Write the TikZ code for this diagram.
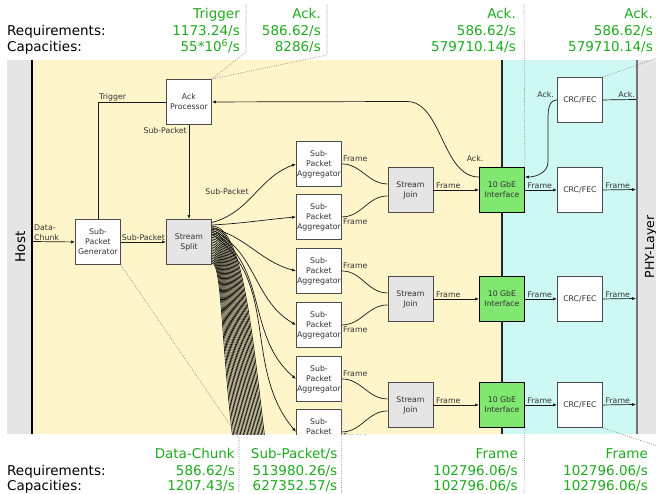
\documentclass[tikz,border=0pt]{standalone}
\usepackage{fontspec}
\setmainfont{DejaVu Sans}
\usetikzlibrary{arrows.meta,calc}
\definecolor{grn}{RGB}{30,170,30}
\definecolor{yel}{RGB}{255,245,202}
\definecolor{cya}{RGB}{206,248,243}
\definecolor{gry}{RGB}{229,229,229}
\definecolor{ifg}{RGB}{128,232,112}
\begin{document}
\begin{tikzpicture}[x=1pt,y=1pt,
  big/.style={font=\fontsize{13.5}{16}\selectfont, inner sep=0pt},
  val/.style={big, text=grn, anchor=base east},
  box/.style={draw=black!70, line width=0.9pt, minimum width=45pt, minimum height=45pt, inner sep=0pt, align=center, font=\fontsize{7.8}{10}\selectfont, text=black!80, anchor=north west, fill=white},
  gbox/.style={box, fill=gry},
  ibox/.style={box, fill=ifg, draw=black},
  lbl/.style={font=\fontsize{7.8}{10}\selectfont, text=black!80, inner sep=1pt},
  con/.style={line width=0.7pt, black!90},
  arr/.style={con, -{Latex[length=4pt,width=3.2pt]}},
  sep/.style={black!45, line width=0.6pt, dash pattern=on 1pt off 1.3pt},
]
\useasboundingbox (0,0) rectangle (656,-493);

% ---------- top texts ----------
\node[big, anchor=base west] (req1) at (7,-35) {Requirements:};
\node[big, anchor=base west] (cap1) at (7,-51.5) {Capacities:};
\node[val] (t1a) at (240,-18.3) {Trigger};
\node[val] (t1b) at (240,-35) {1173.24/s};
\node[val] (t1c) at (240,-51.5) {55*10\textsuperscript{6}/s};
\node[val] (t2a) at (321,-18.3) {Ack.};
\node[val] (t2b) at (321,-35) {586.62/s};
\node[val] (t2c) at (321,-51.5) {8286/s};
\node[val] (t3a) at (516,-18.3) {Ack.};
\node[val] (t3b) at (516,-35) {586.62/s};
\node[val] (t3c) at (516,-51.5) {579710.14/s};
\node[val] (t4a) at (653,-18.3) {Ack.};
\node[val] (t4b) at (653,-35) {586.62/s};
\node[val] (t4c) at (653,-51.5) {579710.14/s};

% ---------- bottom texts ----------
\node[big, anchor=base west] (req2) at (7,-475.5) {Requirements:};
\node[big, anchor=base west] (cap2) at (7,-490.5) {Capacities:};
\node[val] (b1a) at (235,-458.5) {Data-Chunk};
\node[val] (b1b) at (235,-475.5) {586.62/s};
\node[val] (b1c) at (235,-490.5) {1207.43/s};
\node[val] (b2a) at (337.5,-458.5) {Sub-Packet/s};
\node[val] (b2b) at (337.5,-475.5) {513980.26/s};
\node[val] (b2c) at (337.5,-490.5) {627352.57/s};
\node[val] (b3a) at (518,-458.5) {Frame};
\node[val] (b3b) at (518,-475.5) {102796.06/s};
\node[val] (b3c) at (518,-490.5) {102796.06/s};
\node[val] (b4a) at (648,-458.5) {Frame};
\node[val] (b4b) at (648,-475.5) {102796.06/s};
\node[val] (b4c) at (648,-490.5) {102796.06/s};

\begin{scope}
\clip (0,-60) rectangle (656,-434);
% backgrounds
\fill[gry] (7,-60) rectangle (32,-434);
\fill[yel] (32,-60) rectangle (502,-434);
\fill[cya] (502,-60) rectangle (637,-434);
\fill[gry] (637,-60) rectangle (656,-434);
\draw[black, line width=1.2pt] (32,-60) -- (32,-434);
\draw[black!85, line width=1.1pt] (502,-60) -- (502,-434);
\draw[black!55, line width=1.8pt] (637,-60) -- (637,-434);

\node[big, rotate=90, anchor=base] (host) at (25,-247) {Host};
\node[big, font=\fontsize{12.5}{15}\selectfont, rotate=90, anchor=base] (phy) at (654,-247) {PHY-Layer};

% boxes
\node[box] (ackp) at (166,-79) {Ack\\Processor};
\node[box] (gen) at (75,-219) {Sub-\\Packet\\Generator};
\node[gbox] (split) at (166,-219) {Stream\\Split};
\node[box] (agg1) at (296,-141) {Sub-\\Packet\\Aggregator};
\node[box] (agg2) at (296,-194) {Sub-\\Packet\\Aggregator};
\node[box] (agg3) at (296,-248) {Sub-\\Packet\\Aggregator};
\node[box] (agg4) at (296,-302) {Sub-\\Packet\\Aggregator};
\node[box] (agg5) at (296,-356) {Sub-\\Packet\\Aggregator};
\node[box] (agg6) at (296,-409) {Sub-\\Packet\\Aggregator};
\node[gbox] (join1) at (387.5,-167) {Stream\\Join};
\node[gbox] (join2) at (387.5,-276) {Stream\\Join};
\node[gbox] (join3) at (387.5,-382) {Stream\\Join};
\node[ibox] (if1) at (479,-167) {10 GbE\\Interface};
\node[ibox] (if2) at (479,-276) {10 GbE\\Interface};
\node[ibox] (if3) at (479,-382) {10 GbE\\Interface};
\node[box] (crc0) at (557,-77) {CRC/FEC};
\node[box] (crc1) at (557,-167) {CRC/FEC};
\node[box] (crc2) at (557,-276) {CRC/FEC};
\node[box] (crc3) at (557,-382) {CRC/FEC};

\coordinate (hostR) at (32,-241.5);
\coordinate (phy0) at (636,-99.5);
\coordinate (phy1) at (636,-189.5);
\coordinate (phy2) at (636,-298.5);
\coordinate (phy3) at (636,-404.5);

% host -> generator -> split
\draw[arr] (hostR) -- (gen.west);
\node[lbl, anchor=south west, align=left] at (33,-241.5) {Data-\\Chunk};
\draw[arr] (gen.east) -- node[lbl, above, inner sep=0.5pt] {Sub-Packet} (split.west);
% ack processor -> split
\draw[arr] (ackp.south) -- (split.north);
\node[lbl, anchor=north east] at ($(ackp.south)+(-1,-1)$) {Sub-Packet};
% trigger
\draw[con] (ackp.west) -| (gen.north);
\node[lbl, anchor=south west] at (ackp.west -| gen.north) {Trigger};
% ack from interface to processor
\coordinate (if1a) at ($(if1.north west)+(0,-10)$);
\draw[arr] (if1a) .. controls (442,-177) and (442,-101.5) .. (407,-101.5) -- (ackp.east);
\node[lbl] at (475,-159) {Ack.};
% ack from crc0 to interface
\coordinate (if1b) at ($(if1.north east)+(0,-10)$);
\draw[arr] (crc0.west) to[out=180,in=90] (548,-122) -- (548,-162) to[out=-90,in=0] (if1b);
\node[lbl, anchor=south east] at ($(crc0.west)+(-2,1)$) {Ack.};
\draw[con] (phy0) -- (crc0.east);
\node[lbl, anchor=south east] at ($(phy0)+(0,1)$) {Ack.};

% fan bundle from split
\foreach \i in {0,...,23}{
  \pgfmathsetmacro\t{\i/23}
  \pgfmathsetmacro\ys{7+37*\t}
  \pgfmathsetmacro\xe{265-32*\t}
  \pgfmathsetmacro\k{30-20*\t}
  \pgfmathsetmacro\L{0.55*(440-219-\ys)}
  \pgfmathsetmacro\xp{\xe-0.12*\L}
  \pgfmathsetmacro\yp{440-\L}
  \draw[line width=0.6pt, black] ($(split.north east)+(0,-\ys)$) .. controls ($(split.north east)+(\k,-\ys)$) and (\xp,-\yp) .. (\xe,-440);
}
% split -> aggregators
\draw[arr] ($(split.north east)+(0,-3.5)$) to[out=15,in=200] (agg1.west);
\node[lbl] at (227,-192) {Sub-Packet};
\draw[arr] ($(split.north east)+(0,-6)$) to[out=3,in=185] (agg2.west);
\draw[arr] ($(split.north east)+(0,-9)$) to[out=-15,in=165] (agg3.west);
\draw[arr] ($(split.north east)+(0,-11)$) to[out=-25,in=150] (agg4.west);
\draw[arr] ($(split.north east)+(0,-13)$) to[out=-30,in=140] (agg5.west);
\draw[arr] ($(split.north east)+(0,-15)$) to[out=-35,in=130] (agg6.west);

% aggregators -> joins
\foreach \a/\j in {agg1/join1, agg3/join2, agg5/join3}{
  \draw[con] (\a.east) to[out=0,in=180] ($(\j.west)+(0,6)$);
  \node[lbl, anchor=south west] at ($(\a.east)+(0,1)$) {Frame};
}
\foreach \a/\j in {agg2/join1, agg4/join2, agg6/join3}{
  \draw[con] (\a.east) to[out=0,in=180] ($(\j.west)+(0,-6)$);
  \node[lbl, anchor=north west] at ($(\a.east)+(0,-1)$) {Frame};
}
% joins -> interfaces -> crc -> phy
\foreach \j/\f/\c/\p in {join1/if1/crc1/phy1, join2/if2/crc2/phy2, join3/if3/crc3/phy3}{
  \draw[arr] (\j.east) -- (\f.west);
  \node[lbl, anchor=south west, inner sep=0.5pt] at ($(\j.east)+(2,1)$) {Frame};
  \draw[arr] (\f.east) -- (\c.west);
  \node[lbl, anchor=south west, inner sep=0.5pt] at ($(\f.east)+(2,1)$) {Frame};
  \draw[arr] (\c.east) -- (\p);
  \node[lbl, anchor=south west, inner sep=0.5pt] at ($(\c.east)+(2,1)$) {Frame};
}
\end{scope}

% dotted separators
\draw[sep] (246,-5) -- (246,-52) -- (ackp.north east);
\draw[sep] (327,-5) -- (327,-55) -- (ackp.north east);
\draw[sep] (if1.north east) -- (524,-5);
\draw[sep] (crc0.north east) -- (666,-55);
\draw[sep] (gen.south east) -- (239,-438) -- (239,-493);
\draw[sep] (agg5.south east) -- (341.5,-493);
\draw[sep] (if3.south east) -- (524,-493);
\draw[sep] (crc3.south east) -- (666,-449);
\end{tikzpicture}
\end{document}
